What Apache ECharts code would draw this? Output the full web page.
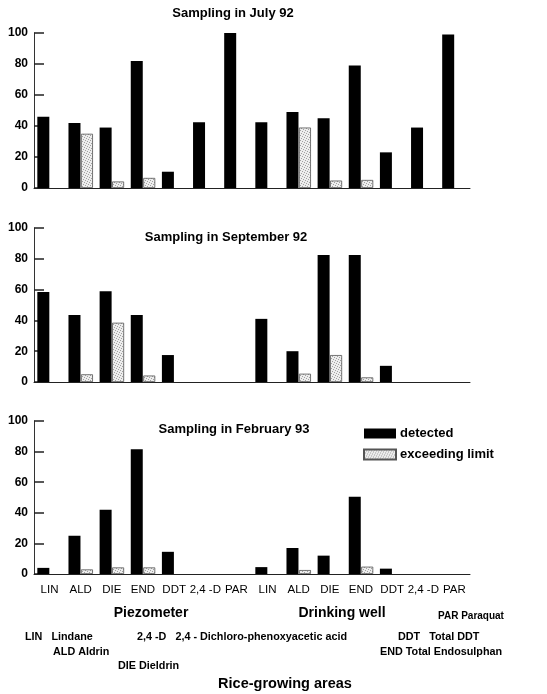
<!DOCTYPE html>
<html>
<head>
<meta charset="utf-8">
<title>Pesticides in groundwater, rice-growing areas</title>
<script src="https://cdn.jsdelivr.net/npm/echarts@6/dist/echarts.min.js"></script>
<style>
  html, body { margin: 0; padding: 0; background: #fff; }
  #chart { width: 547px; height: 694px; }
</style>
</head>
<body>
<div id="chart"></div>
<script>
// Compounds, first for the piezometers, then for the drinking wells
const categories = ['LIN', 'ALD', 'DIE', 'END', 'DDT', '2,4 -D', 'PAR',
                    'LIN', 'ALD', 'DIE', 'END', 'DDT', '2,4 -D', 'PAR'];
const yTicks = [0, 20, 40, 60, 80, 100];

const panelTitles = ['Sampling in July 92', 'Sampling in September 92', 'Sampling in February 93'];

// Percentage of samples in which the compound was detected
const detectedJul92 = [46, 42, 39, 82, 10.5, 42.5, 100, 42.5, 49, 45, 79, 23, 39, 99];
const detectedSep92 = [58.5, 43.5, 59, 43.5, 17.5, 0, 0, 41, 20, 82.5, 82.5, 10.5, 0, 0];
const detectedFeb93 = [4, 25, 42, 81.5, 14.5, 0, 0, 4.5, 17, 12, 50.5, 3.5, 0, 0];

// Percentage of samples exceeding the limit
const exceedJul92 = [0, 35, 4.2, 6.5, 0, 0, 0, 0, 39, 4.8, 5.2, 0, 0, 0];
const exceedSep92 = [0, 5, 38.5, 4.2, 0, 0, 0, 0, 5.4, 17.5, 3, 0, 0, 0];
const exceedFeb93 = [0, 3, 4.3, 4.3, 0, 0, 0, 0, 2.6, 0, 4.8, 0, 0, 0];

const detected = [detectedJul92, detectedSep92, detectedFeb93];
const exceeding = [exceedJul92, exceedSep92, exceedFeb93];

// fine stippled fill for the "exceeding limit" bars
function stipple() {
  const c = document.createElement('canvas');
  c.width = 5; c.height = 5;
  const ctx = c.getContext('2d');
  ctx.fillStyle = '#ededed';
  ctx.fillRect(0, 0, 5, 5);
  ctx.fillStyle = '#a0a0a0';
  [[0, 0], [2, 1], [4, 2], [1, 3], [3, 4]].forEach(function (p) { ctx.fillRect(p[0], p[1], 1, 1); });
  return { image: c, repeat: 'repeat' };
}
const dots = stipple();

const FONT = "'Liberation Sans', Arial, Helvetica, sans-serif";
const gridTops = [33, 228, 421];
const gridHeights = [155, 154, 153];
const titleTops = [13, 237, 429];
const titleCenters = [233, 226, 234];

const chart = echarts.init(document.getElementById('chart'), null, { renderer: 'canvas' });

const grids = [], xAxes = [], yAxes = [], series = [], titles = [];
for (let i = 0; i < 3; i++) {
  grids.push({ left: 34, width: 436, top: gridTops[i], height: gridHeights[i] });
  xAxes.push({
    type: 'category', gridIndex: i, data: categories,
    axisLine: { lineStyle: { color: '#222', width: 1 } },
    axisTick: { inside: true, length: 3, lineStyle: { color: '#222' } },
    axisLabel: {
      show: i === 2, color: '#000', fontFamily: FONT, fontSize: 11.5,
      margin: 10, interval: 0
    },
    splitLine: { show: false }
  });
  yAxes.push({
    type: 'value', gridIndex: i, min: yTicks[0], max: yTicks[yTicks.length - 1], interval: 20,
    axisLine: { show: true, lineStyle: { color: '#333', width: 1 } },
    axisTick: { show: true, inside: true, length: 10, lineStyle: { color: '#222', width: 1.5 } },
    axisLabel: {
      color: '#000', fontFamily: FONT, fontSize: 12, fontWeight: 'bold', margin: 6
    },
    splitLine: { show: false }
  });
  series.push({
    name: 'detected', type: 'bar', xAxisIndex: i, yAxisIndex: i,
    data: detected[i], barWidth: 12, barGap: '4%',
    itemStyle: { color: '#000' }, silent: true
  });
  series.push({
    name: 'exceeding limit', type: 'bar', xAxisIndex: i, yAxisIndex: i,
    // empty bars get no outline, so nothing is stroked along the axis
    data: exceeding[i].map(function (v) {
      return v > 0 ? v : { value: v, itemStyle: { borderWidth: 0 } };
    }),
    barWidth: 12, barGap: '4%',
    itemStyle: { color: dots, borderColor: '#555', borderWidth: 0.8 }, silent: true
  });
  titles.push({
    text: panelTitles[i], left: titleCenters[i], top: titleTops[i], textAlign: 'center',
    textVerticalAlign: 'middle', padding: 0,
    textStyle: { fontFamily: FONT, fontSize: 13, fontWeight: 'bold', color: '#000' }
  });
}

function label(text, x, y, size, align) {
  return {
    type: 'text', x: x, y: y,
    style: {
      text: text, fontFamily: FONT, fontSize: size, fontWeight: 'bold',
      fill: '#000', align: align || 'left', verticalAlign: 'middle'
    }
  };
}

const notes = [
  label('Piezometer', 151, 613, 14, 'center'),
  label('Drinking well', 342, 613, 14, 'center'),
  label('Rice-growing areas', 285, 684, 14.5, 'center'),
  label('PAR Paraquat', 438, 616, 10),
  label('LIN   Lindane', 25, 637.5, 10.8),
  label('2,4 -D   2,4 - Dichloro-phenoxyacetic acid', 137, 637.5, 10.8),
  label('DDT   Total DDT', 398, 637.5, 10.8),
  label('ALD Aldrin', 53, 652.5, 10.8),
  label('END Total Endosulphan', 380, 652.5, 10.8),
  label('DIE Dieldrin', 118, 666, 10.8)
];

chart.setOption({
  animation: false,
  backgroundColor: '#fff',
  title: titles,
  legend: {
    data: ['detected', 'exceeding limit'],
    orient: 'vertical', left: 363, top: 427, padding: 0,
    itemWidth: 32, itemHeight: 10, itemGap: 8, icon: 'rect',
    selectedMode: false,
    textStyle: { fontFamily: FONT, fontSize: 13, fontWeight: 'bold', color: '#000', padding: [0, 0, 0, -1] }
  },
  grid: grids,
  xAxis: xAxes,
  yAxis: yAxes,
  series: series,
  graphic: notes
});
</script>
</body>
</html>
